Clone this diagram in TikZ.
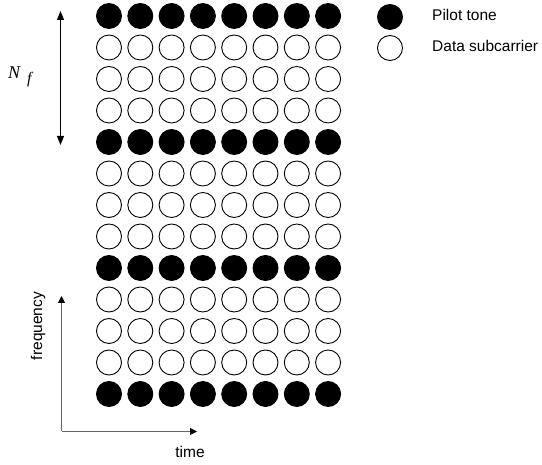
\documentclass[tikz,border=0pt]{standalone}
\usepackage{fontspec}
\setmainfont{Liberation Sans}
\newfontfamily\serifmath{Liberation Serif}
\usetikzlibrary{arrows.meta}
\tikzset{
  tone/.style={circle, draw=black, line width=0.9pt, minimum size=25pt, inner sep=0pt},
  pilot/.style={tone, fill=black},
  datasc/.style={tone, fill=white},
  lbl/.style={font=\fontsize{15.5}{18}\selectfont, inner sep=0pt},
  axis/.style={draw=black!60, line width=0.9pt, -{Triangle[length=7pt,width=7pt,fill=black,color=black]}},
  span/.style={draw=black, line width=0.9pt, {Triangle[length=9pt,width=7pt]}-{Triangle[length=9pt,width=7pt]}}
}
\begin{document}
\begin{tikzpicture}[x=1pt,y=-1pt]
\useasboundingbox (0,0) rectangle (542,465);
% time-frequency grid: pilot rows every fourth subcarrier
\foreach \r in {0,...,12}{
  \foreach \c in {0,...,7}{
    \pgfmathtruncatemacro{\m}{mod(\r,4)}
    \ifnum\m=0
      \node[pilot] (g-\r-\c) at ({109+\c*31.3},{16+\r*31.5}) {};
    \else
      \node[datasc] (g-\r-\c) at ({109+\c*31.3},{16+\r*31.5}) {};
    \fi
  }
}
% pilot spacing
\coordinate (nt) at (60.5,11);
\coordinate (nb) at (60.5,145);
\draw[span] (nt) -- (nb);
\node[inner sep=0pt, anchor=base west] (nf) at (8,78.5)
  {\fontsize{18}{20}\selectfont\serifmath\itshape N\kern7pt\raisebox{-5pt}{\fontsize{16}{18}\selectfont f}};
% legend
\node[pilot] (lp) at (390,17) {};
\node[datasc] (ld) at (390,48) {};
\node[lbl, anchor=base west] (lpt) at (432,20.7) {Pilot tone};
\node[lbl, anchor=base west] (ldt) at (432,51.7) {Data subcarrier};
% axes
\coordinate (o) at (61.5,431.5);
\coordinate (fy) at (61.5,296);
\coordinate (tx) at (197,431.5);
\draw[axis] (o) -- (fy);
\draw[axis] (o) -- (tx);
\node[lbl, anchor=base] (tl) at (190,458) {time};
\node[lbl, rotate=90] (fl) at (38,326) {frequency};
\end{tikzpicture}
\end{document}
